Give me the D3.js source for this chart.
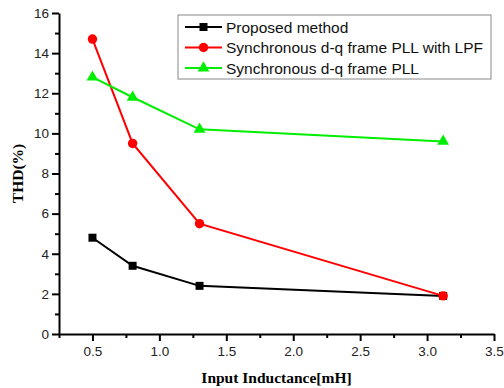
<!DOCTYPE html>
<html>
<head>
<meta charset="utf-8">
<script src="https://cdn.jsdelivr.net/npm/d3@7"></script>
<style>
  body { margin: 0; background: #fff; }
  svg text { font-family: "Liberation Sans", Arial, sans-serif; }
</style>
</head>
<body>
<div id="chart"></div>
<script>
// values
const inductance = [0.5, 0.8, 1.3, 3.12];
const proposed = [4.8, 3.4, 2.4, 1.9];
const pllLpf = [14.7, 9.5, 5.5, 1.9];
const pll = [12.8, 11.8, 10.2, 9.6];
const seriesNames = ['Proposed method', 'Synchronous d-q frame PLL with LPF', 'Synchronous d-q frame PLL'];
const xTicks = [0.5, 1.0, 1.5, 2.0, 2.5, 3.0, 3.5];
const yTicks = [0, 2, 4, 6, 8, 10, 12, 14, 16];

const width = 504, height = 388;
const margin = { top: 13, right: 10, bottom: 54, left: 59 };

const svg = d3.select('#chart').append('svg')
    .attr('width', width)
    .attr('height', height);

const x = d3.scaleLinear().domain([0.25, 3.5]).range([margin.left, width - margin.right]);
const y = d3.scaleLinear().domain([0, 16]).range([height - margin.bottom, margin.top]);

const series = [
    { name: seriesNames[0], values: proposed, color: '#000000', symbol: d3.symbolSquare, size: 64 },
    { name: seriesNames[1], values: pllLpf, color: '#ff0000', symbol: d3.symbolCircle, size: 70 },
    { name: seriesNames[2], values: pll, color: '#00ee00', symbol: d3.symbolTriangle, size: 60 }
];

// minor ticks
const xMinor = d3.range(0.25, 3.51, 0.25).filter(v => Math.abs(v * 2 - Math.round(v * 2)) > 1e-6);
const yMinor = d3.range(1, 16, 2);

svg.append('g')
    .attr('transform', `translate(0,${y(0)})`)
    .call(d3.axisBottom(x).tickValues(xMinor).tickSize(4).tickFormat(''))
    .call(g => g.select('.domain').remove());

svg.append('g')
    .attr('transform', `translate(${margin.left},0)`)
    .call(d3.axisLeft(y).tickValues(yMinor).tickSize(4).tickFormat(''))
    .call(g => g.select('.domain').remove());

const xAxis = svg.append('g')
    .attr('transform', `translate(0,${y(0)})`)
    .call(d3.axisBottom(x).tickValues(xTicks).tickSize(7).tickSizeOuter(0).tickPadding(5).tickFormat(d3.format('.1f')));

const yAxis = svg.append('g')
    .attr('transform', `translate(${margin.left},0)`)
    .call(d3.axisLeft(y).tickValues(yTicks).tickSize(7).tickSizeOuter(0).tickPadding(3).tickFormat(d3.format('d')));

svg.selectAll('.tick line, .domain').attr('stroke', '#000').attr('stroke-width', 2);
[xAxis, yAxis].forEach(a => a.selectAll('text')
    .attr('font-size', 13.5)
    .attr('fill', '#222')
    .style('font-family', '"Liberation Sans", Arial, sans-serif'));

// axis titles
svg.append('text')
    .attr('x', (x(0.25) + x(3.5)) / 2)
    .attr('y', 383)
    .attr('text-anchor', 'middle')
    .style('font-family', '"Liberation Serif", "Times New Roman", serif')
    .attr('font-weight', 'bold')
    .attr('font-size', 15.5)
    .text('Input Inductance[mH]');

svg.append('text')
    .attr('transform', `translate(23,${y(8)}) rotate(-90)`)
    .attr('text-anchor', 'middle')
    .style('font-family', '"Liberation Serif", "Times New Roman", serif')
    .attr('font-weight', 'bold')
    .attr('font-size', 15.5)
    .text('THD(%)');

const line = d3.line()
    .x((d, i) => x(inductance[i]))
    .y(d => y(d));

series.forEach(s => {
    svg.append('path')
        .datum(s.values)
        .attr('fill', 'none')
        .attr('stroke', s.color)
        .attr('stroke-width', 2)
        .attr('d', line);

    svg.selectAll(null)
        .data(s.values)
        .enter()
        .append('path')
        .attr('transform', (d, i) => `translate(${x(inductance[i])},${y(d)})`)
        .attr('d', d3.symbol().type(s.symbol).size(s.size))
        .attr('fill', s.color);
});

// legend
const legend = svg.append('g').attr('transform', 'translate(178,15)');
legend.append('rect')
    .attr('width', 313)
    .attr('height', 64)
    .attr('fill', '#fff')
    .attr('stroke', '#888')
    .attr('stroke-width', 1);

const items = legend.selectAll('.legend-item')
    .data(series)
    .enter()
    .append('g')
    .attr('class', 'legend-item')
    .attr('transform', (d, i) => `translate(0,${12 + i * 20.5})`);

items.append('line')
    .attr('x1', 7).attr('x2', 44)
    .attr('stroke', d => d.color)
    .attr('stroke-width', 2);

items.append('path')
    .attr('transform', 'translate(25.5,0)')
    .attr('d', d => d3.symbol().type(d.symbol).size(d.size)())
    .attr('fill', d => d.color);

items.append('text')
    .attr('x', 48)
    .attr('y', 5.5)
    .attr('font-size', 15.5)
    .attr('fill', '#111')
    .text(d => d.name);
</script>
</body>
</html>
